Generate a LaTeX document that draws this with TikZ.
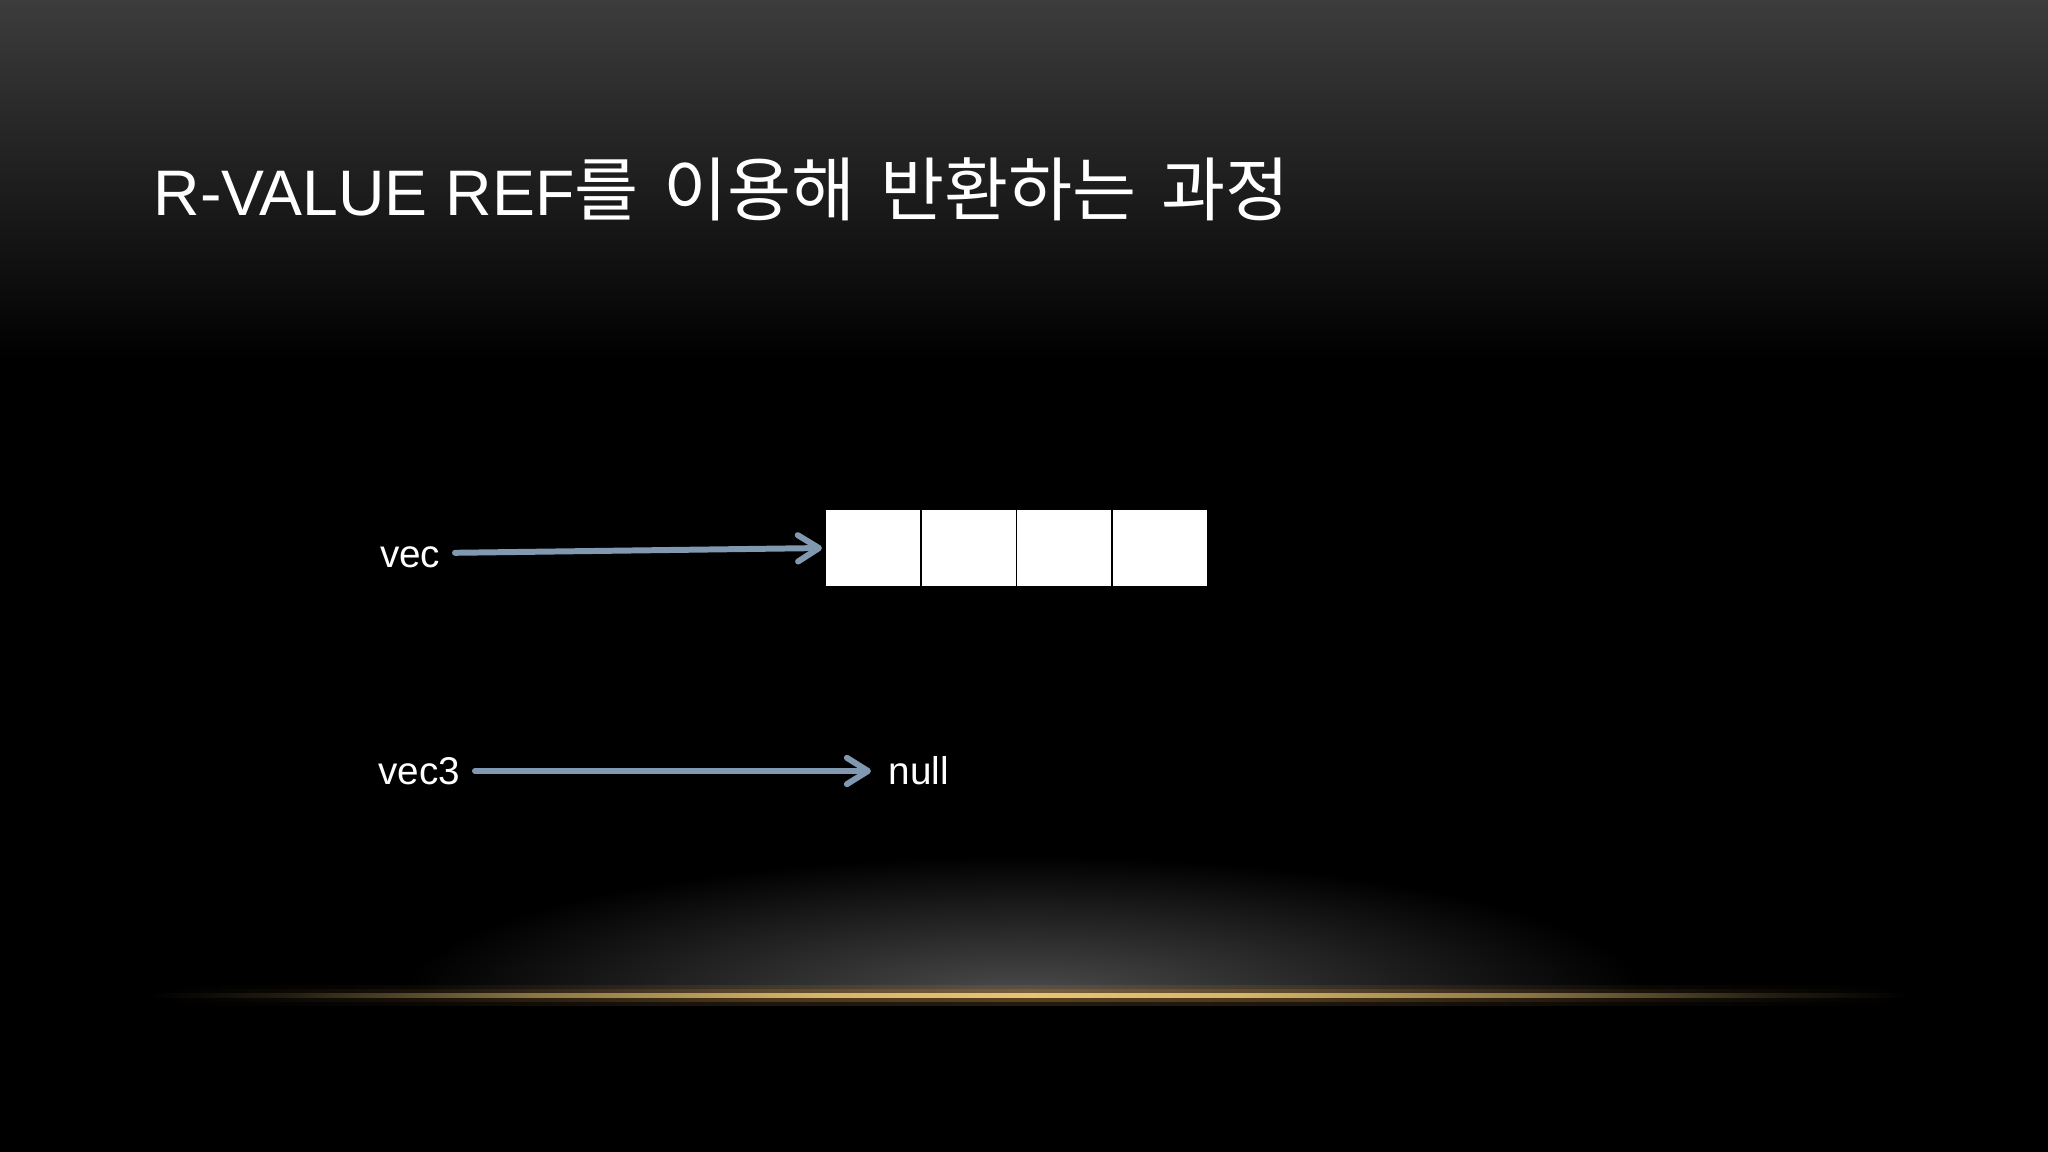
\documentclass[tikz,border=0pt]{standalone}
\usepackage{fontspec}
\setmainfont{Liberation Sans}
\newfontfamily\kr[WordSpace=1.6]{Noto Sans CJK KR}
\usetikzlibrary{arrows.meta}
\definecolor{arrowc}{RGB}{128,153,176}
\definecolor{glowc}{RGB}{76,76,76}
\definecolor{topc}{RGB}{60,60,60}
\definecolor{goldc}{RGB}{232,198,112}
\definecolor{hazec}{RGB}{150,108,55}
\pgfdeclarehorizontalshading{goldcore}{100bp}{color(0bp)=(black); color(25bp)=(black); color(29bp)=(goldc!15!black); color(36bp)=(goldc!60!black); color(44bp)=(goldc!92!black); color(50bp)=(goldc); color(56bp)=(goldc!92!black); color(64bp)=(goldc!60!black); color(71bp)=(goldc!15!black); color(75bp)=(black); color(100bp)=(black)}
\pgfdeclarehorizontalshading{goldhaze}{100bp}{color(0bp)=(black); color(25bp)=(black); color(32bp)=(hazec!25!black); color(42bp)=(hazec!85!black); color(50bp)=(hazec); color(58bp)=(hazec!85!black); color(68bp)=(hazec!25!black); color(75bp)=(black); color(100bp)=(black)}
\tikzset{
  cell/.style={draw=black, fill=white, line width=0.5pt, minimum width=0.9575cm, minimum height=0.77cm, inner sep=0pt, outer sep=0pt},
  lab/.style={text=white, inner sep=0pt, font=\fontsize{11}{13}\selectfont},
  arr/.style={draw=arrowc, line width=1.7pt, line cap=round, line join=round, -{Straight Barb[length=6pt,width=7.5pt,round]}},
}
\begin{document}
\begin{tikzpicture}[x=0.01cm,y=0.01cm]
\useasboundingbox (0,0) rectangle (2048,1152);
\fill[black] (0,0) rectangle (2048,1152);
\shade[top color=topc, bottom color=black] (0,790) rectangle (2048,1152);
\begin{scope}
  \clip (0,156) rectangle (2048,600);
  \shade[inner color=glowc, outer color=black] (1024,156) ellipse [x radius=620, y radius=140];
\end{scope}
\shade[shading=goldhaze, opacity=0.25] (150,146) rectangle (1910,166);
\shade[shading=goldhaze, opacity=0.45] (150,150) rectangle (1910,162);
\shade[shading=goldcore] (150,154) rectangle (1910,158);

\node[anchor=base west, inner sep=0pt, text=white, font=\fontsize{18.3}{22}\selectfont] (title) at (153,936) {R-VALUE REF{\kr\fontsize{19.8}{22}\selectfont 를 이용해 반환하는 과정}};

\node[cell] (c1) at (872.9,604) {};
\node[cell] (c2) at (968.6,604) {};
\node[cell] (c3) at (1064.4,604) {};
\node[cell] (c4) at (1160.1,604) {};

\node[lab, anchor=east] (vec) at (441,595) {vec};
\node[lab, anchor=east] (vec3) at (461,381) {vec3};
\node[lab, anchor=west] (null) at (888,381) {null};

\draw[arr, shorten <=1.4mm, shorten >=0.3mm] ([yshift=0.04cm]vec.east) -- (c1.west);
\draw[arr, shorten <=1.4mm, shorten >=1.7mm] (vec3.east) -- (null.west);
\end{tikzpicture}
\end{document}
